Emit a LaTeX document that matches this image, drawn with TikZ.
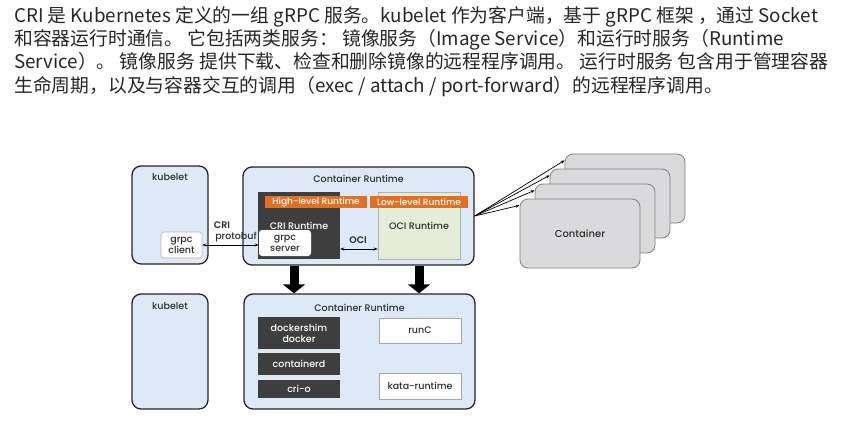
\documentclass[tikz,border=0pt]{standalone}
\usepackage{fontspec}
\setmainfont{Poppins}[UprightFont=* Medium, BoldFont=* SemiBold]
\newfontfamily\cjk{Noto Sans CJK SC}
\usetikzlibrary{arrows.meta,positioning}
\definecolor{boxblue}{RGB}{221,233,246}
\definecolor{darkbox}{RGB}{62,62,62}
\definecolor{runorange}{RGB}{226,112,32}
\definecolor{ocigreen}{RGB}{229,237,217}
\definecolor{contgray}{RGB}{218,218,220}
\definecolor{txtgray}{RGB}{45,45,45}
\tikzset{
  outerbox/.style={draw=black!85, line width=1.3pt, rounded corners=9pt, fill=boxblue},
  darkrt/.style={fill=darkbox, text=white, font=\fontsize{9.5}{11}\selectfont, align=center, inner sep=0pt},
  whitebox/.style={fill=white, draw=black!35, line width=.6pt, text=txtgray, font=\fontsize{9.5}{11}\selectfont, align=center, inner sep=0pt},
  tagbar/.style={fill=runorange, text=white, font=\fontsize{9}{9}\selectfont, inner sep=0pt},
  lbl/.style={text=txtgray, font=\fontsize{9.5}{10}\selectfont, inner sep=0pt},
  ctr/.style={draw=black!50, line width=.8pt, fill=contgray, rounded corners=8pt, minimum width=120pt, minimum height=69pt},
  bigarrow/.style={line width=9pt, -{Triangle[width=22pt,length=9pt]}},
}
\begin{document}
\begin{tikzpicture}[x=1pt, y=-1pt]
\useasboundingbox[fill=white] (0,0) rectangle (845,420);
% intro text
\node[anchor=north west, align=left, inner sep=0pt, text=black!85,
  font=\cjk\fontsize{18.8}{23.3}\selectfont] (intro) at (14,6) {%
CRI 是 Kubernetes 定义的一组 gRPC 服务。kubelet 作为客户端，基于 gRPC 框架 ，通过 Socket\\
和容器运行时通信。 它包括两类服务： 镜像服务（Image Service）和运行时服务（Runtime\\
Service）。 镜像服务 提供下载、检查和删除镜像的远程程序调用。 运行时服务 包含用于管理容器\\
生命周期，以及与容器交互的调用（exec / attach / port-forward）的远程程序调用。};

% containers, back to front
\foreach \i in {4,3,2,1}
  \node[ctr] (c\i) at ({580+15*(\i-1)},{233.5-15*(\i-1)}) {};
\node[lbl, font=\fontsize{10}{10}\selectfont] at (c1) {Container};

% upper row
\node[outerbox, minimum width=76pt, minimum height=98pt] (kubA) at (170,215) {};
\node[lbl, below=8pt of kubA.north] {kubelet};
\node[outerbox, minimum width=231pt, minimum height=98pt] (crtA) at (358.5,216) {};
\node[lbl, below=9pt of crtA.north] {Container Runtime};

\node[darkrt, minimum width=82pt, minimum height=67pt] (crirt) at (299,225.5) {CRI Runtime};
\node[whitebox, fill=ocigreen, draw=black!30, minimum width=82pt, minimum height=67pt] (ocirt) at (419,225.5) {OCI Runtime};
\node[tagbar, minimum width=102pt, minimum height=12pt] (high) at (316,202) {High-level Runtime};
\node[tagbar, minimum width=98pt, minimum height=12pt] (low) at (419,202) {Low-level Runtime};

\node[whitebox, draw=none, rounded corners=3pt, minimum width=52pt, minimum height=26pt] (gserver) at (285,243) {grpc\\server};
\node[whitebox, draw=blue!20!black!30, rounded corners=3pt, minimum width=41pt, minimum height=26pt] (gclient) at (181.5,245) {grpc\\client};

\draw[{Stealth[length=4pt]}-{Stealth[length=4pt]}, line width=.8pt] (gclient.east) -- (gclient.east -| gserver.west);
\node[lbl, font=\bfseries\fontsize{9.5}{10}\selectfont] at (222,225) {CRI};
\node[lbl] at (236,237) {protobuf};
\draw[{Stealth[length=4pt]}-{Stealth[length=4pt]}, line width=.8pt] ([yshift=-23.5pt]crirt.east) -- ([yshift=-23.5pt]ocirt.west);
\node[lbl, font=\bfseries\fontsize{9.5}{10}\selectfont] at (358,240) {OCI};

\foreach \i in {1,...,4}
  \draw[-{Stealth[length=4pt]}, line width=.7pt] (crtA.east) -- (c\i.155);

% lower row
\node[outerbox, minimum width=76pt, minimum height=115pt] (kubB) at (170,351.5) {};
\node[lbl, below=9pt of kubB.north] {kubelet};
\node[outerbox, minimum width=231pt, minimum height=115pt] (crtB) at (359.5,351.5) {};
\node[lbl, below=11pt of crtB.north] {Container Runtime};

\node[darkrt, minimum width=82pt, minimum height=32pt] (dshim) at (299,333) {dockershim\\docker};
\node[darkrt, minimum width=82pt, minimum height=22pt] (ctrd) at (299,364) {containerd};
\node[darkrt, minimum width=82pt, minimum height=18pt] (crio) at (299,389) {cri-o};
\node[whitebox, minimum width=82pt, minimum height=25pt] (runc) at (420,330.5) {runC};
\node[whitebox, minimum width=82pt, minimum height=26pt] (kata) at (420,386) {kata-runtime};

\draw[bigarrow] ([xshift=-5pt]crtA.south -| crirt.south) -- ([xshift=-5pt]crtB.north -| crirt.south);
\draw[bigarrow] (crtA.south -| ocirt.south) -- (crtB.north -| ocirt.south);
\end{tikzpicture}
\end{document}
